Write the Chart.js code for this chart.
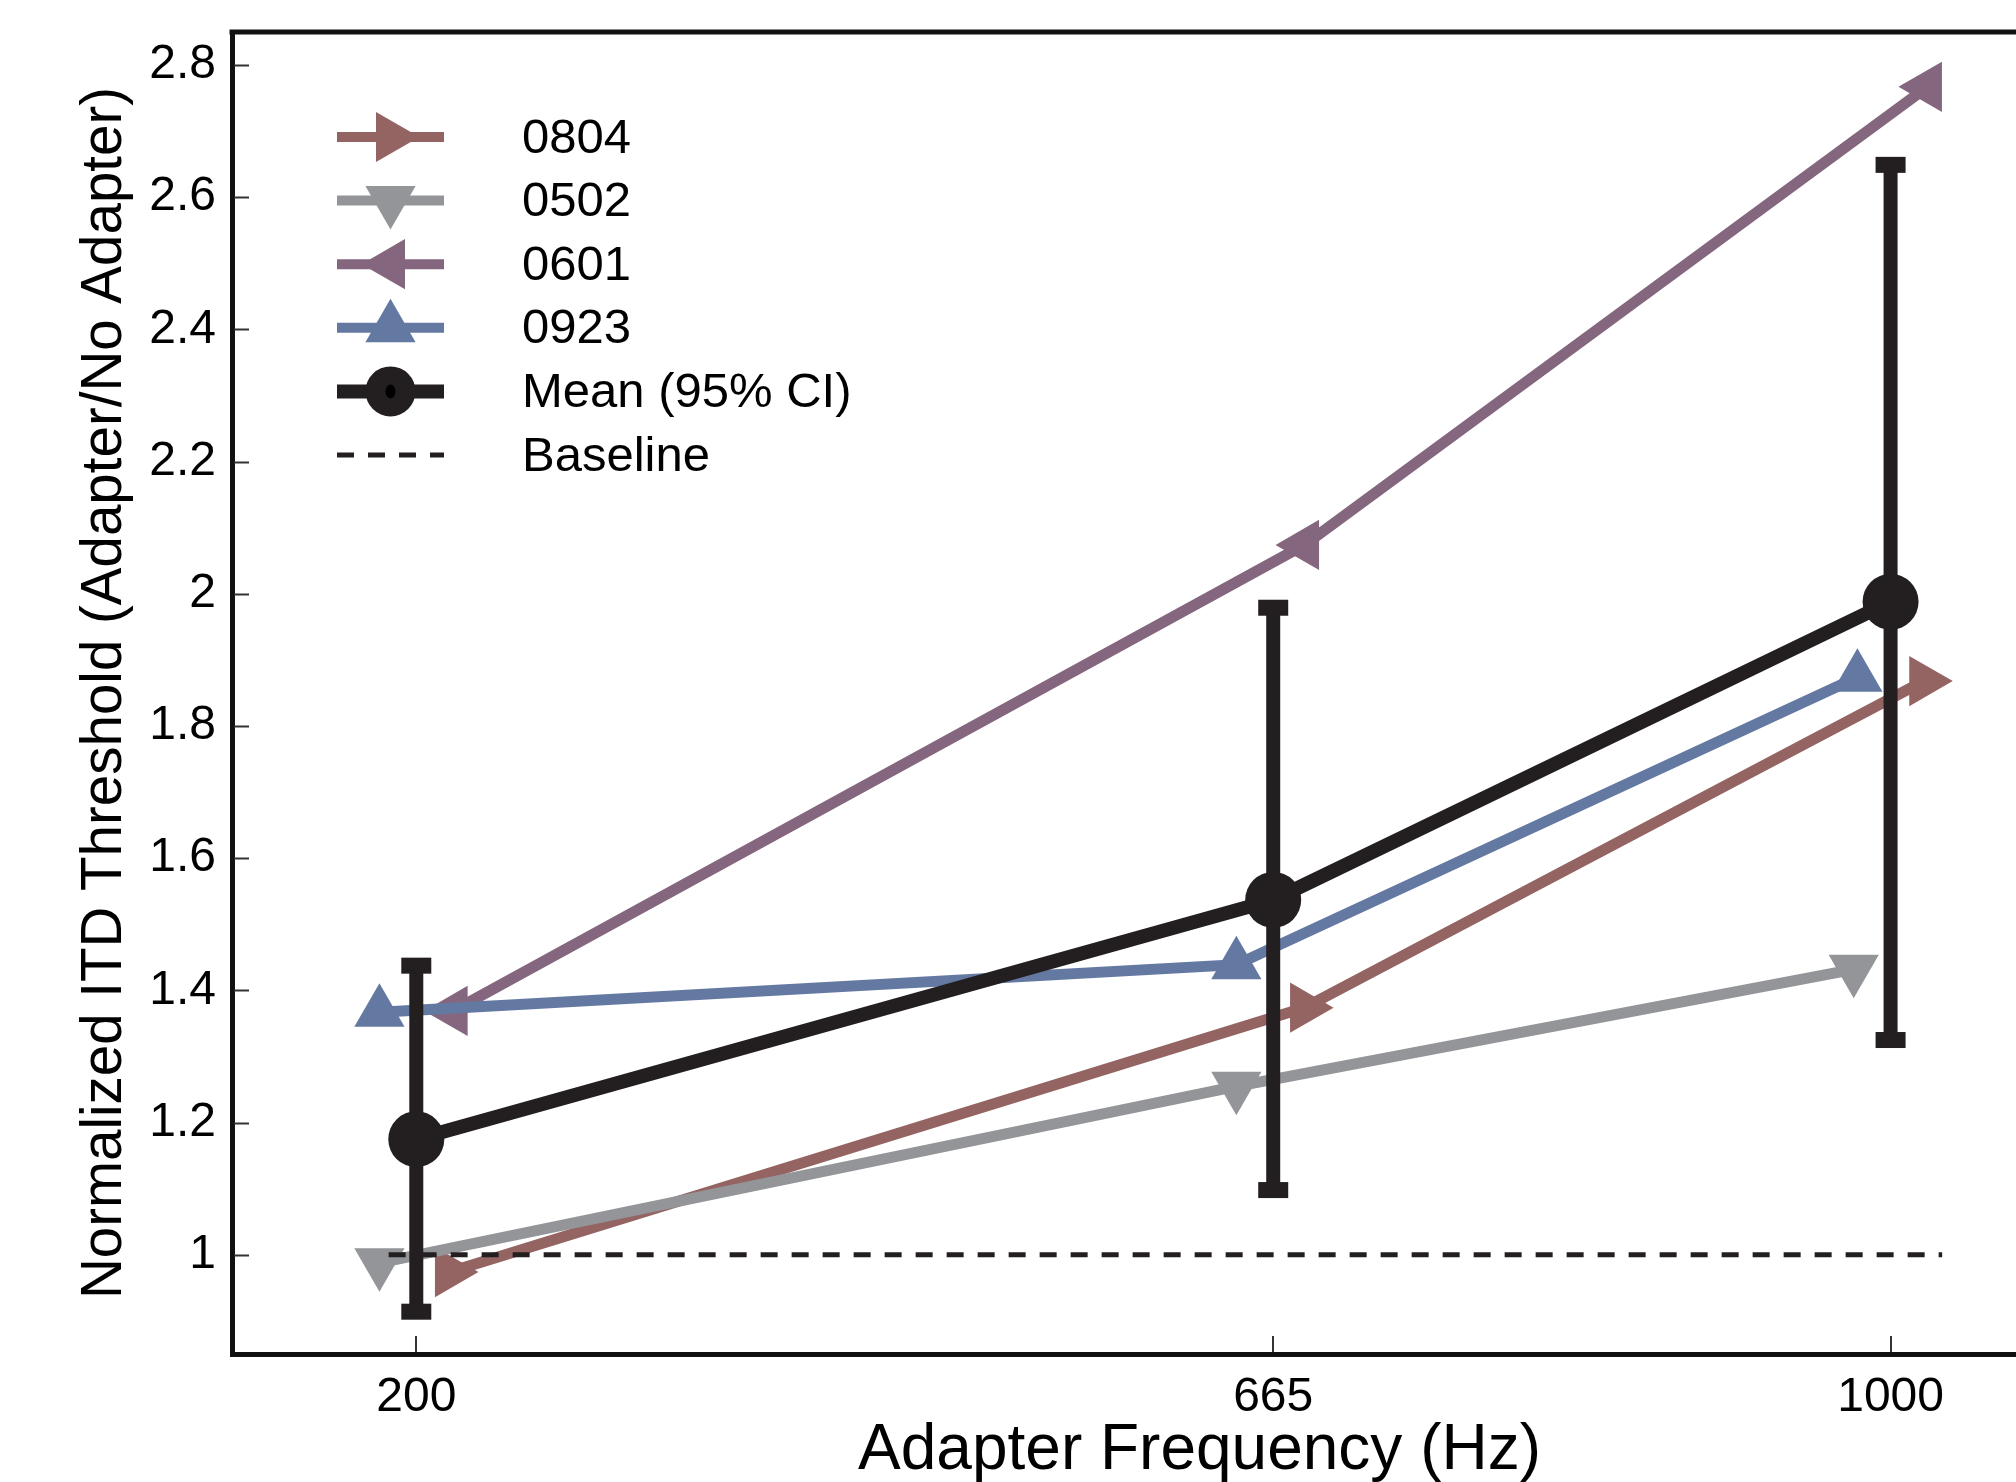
<!DOCTYPE html>
<html><head><meta charset="utf-8">
<script src="https://cdn.jsdelivr.net/npm/chart.js@4.4.1/dist/chart.umd.min.js"></script>
<style>html,body{margin:0;padding:0;background:#fff;overflow:hidden;} #wrap{width:2167px;height:1482px;}</style>
</head><body><div id="wrap"><canvas id="c" width="2167" height="1482"></canvas></div>
<script>
// ---- data ----
const freqs = [200, 665, 1000];
const xTickLabels = ['200', '665', '1000'];
const yTickValues = [1, 1.2, 1.4, 1.6, 1.8, 2, 2.2, 2.4, 2.6, 2.8];
const yTickLabels = ['1', '1.2', '1.4', '1.6', '1.8', '2', '2.2', '2.4', '2.6', '2.8'];
const seriesNames = ['0804', '0502', '0601', '0923'];
const x0804 = [218, 682, 1018];
const y0804 = [0.974, 1.374, 1.868];
const x0502 = [180, 645, 980];
const y0502 = [0.988, 1.255, 1.432];
const x0601 = [220, 682, 1020];
const y0601 = [1.369, 2.074, 2.767];
const x0923 = [180, 645, 982];
const y0923 = [1.367, 1.439, 1.874];
const meanLabel = 'Mean (95% CI)';
const meanY = [1.175, 1.537, 1.988];
const ciLow = [0.914, 1.098, 1.325];
const ciHigh = [1.4375, 1.979, 2.649];
const baselineLabel = 'Baseline';
const baselineX = [185, 1028];
const baselineY = [1, 1];
const xTitle = 'Adapter Frequency (Hz)';
const yTitle = 'Normalized ITD Threshold (Adapter/No Adapter)';

// ---- styles ----
const FONT = "'Liberation Sans', Arial, Helvetica, sans-serif";
const C0804 = '#946462', C0502 = '#939598', C0601 = '#85667f', C0923 = '#6479a2', CMEAN = '#231f20';
const AXIS = '#111111';

function pts(xs, ys) { return xs.map((v, i) => ({x: v, y: ys[i]})); }
function series(label, xs, ys, color, rot, order) {
  return {label, data: pts(xs, ys), borderColor: color, backgroundColor: color,
    borderWidth: 11, pointStyle: 'triangle', pointRotation: rot, pointRadius: 29,
    pointHoverRadius: 29, pointBorderWidth: 0, pointBackgroundColor: color, order, tension: 0};
}

const datasets = [
  series(seriesNames[0], x0804, y0804, C0804, 90, 5),
  series(seriesNames[1], x0502, y0502, C0502, 180, 4),
  series(seriesNames[2], x0601, y0601, C0601, 270, 3),
  series(seriesNames[3], x0923, y0923, C0923, 0, 2),
  {label: meanLabel, data: pts(freqs, meanY), borderColor: CMEAN, backgroundColor: CMEAN,
   borderWidth: 14, pointStyle: 'circle', pointRadius: 28, pointHoverRadius: 28,
   pointBorderWidth: 0, pointBackgroundColor: CMEAN, order: 1},
  {label: baselineLabel, data: pts(baselineX, baselineY), borderColor: CMEAN, borderWidth: 5,
   borderDash: [17, 14], pointRadius: 0, order: 0}
];

function tri(ctx, x, y, r, rotDeg) {
  let rad = rotDeg * Math.PI / 180;
  ctx.beginPath();
  for (let k = 0; k < 3; k++) {
    const px = x + Math.sin(rad) * r, py = y - Math.cos(rad) * r;
    if (k === 0) ctx.moveTo(px, py); else ctx.lineTo(px, py);
    rad += 2 * Math.PI / 3;
  }
  ctx.closePath();
  ctx.fill();
}

const extras = {
  id: 'extras',
  afterDatasetsDraw(chart) {
    const {ctx, scales: {x, y}} = chart;
    ctx.save();
    ctx.strokeStyle = CMEAN; ctx.fillStyle = CMEAN; ctx.lineWidth = 14;
    for (let i = 0; i < freqs.length; i++) {
      const px = x.getPixelForValue(freqs[i]);
      const yl = y.getPixelForValue(ciLow[i]);
      const yh = y.getPixelForValue(ciHigh[i]);
      ctx.beginPath(); ctx.moveTo(px, yl); ctx.lineTo(px, yh); ctx.stroke();
      ctx.fillRect(px - 15, yh - 8, 30, 16);
      ctx.fillRect(px - 15, yl - 8, 30, 16);
    }
    ctx.restore();
  },
  afterDraw(chart) {
    const {ctx, chartArea: a, scales: {x, y}} = chart;
    ctx.save();
    // top frame line
    ctx.strokeStyle = AXIS; ctx.lineWidth = 5;
    ctx.beginPath(); ctx.moveTo(a.left - 2.5, a.top); ctx.lineTo(a.right + 5, a.top); ctx.stroke();
    // inward ticks
    ctx.strokeStyle = '#333'; ctx.lineWidth = 2;
    yTickValues.forEach(v => {
      const py = Math.round(y.getPixelForValue(v)) + 0.5;
      ctx.beginPath(); ctx.moveTo(a.left + 2, py); ctx.lineTo(a.left + 17, py); ctx.stroke();
    });
    freqs.forEach(v => {
      const px = Math.round(x.getPixelForValue(v));
      ctx.beginPath(); ctx.moveTo(px, a.bottom - 2); ctx.lineTo(px, a.bottom - 18); ctx.stroke();
    });
    // legend
    const rows = [
      {name: seriesNames[0], color: C0804, rot: 90, lw: 10},
      {name: seriesNames[1], color: C0502, rot: 180, lw: 10},
      {name: seriesNames[2], color: C0601, rot: 270, lw: 10},
      {name: seriesNames[3], color: C0923, rot: 0, lw: 10},
      {name: meanLabel, color: CMEAN, circle: true, lw: 14},
      {name: baselineLabel, color: CMEAN, dash: true, lw: 5}
    ];
    const x1 = 337, x2 = 444, xm = (x1 + x2) / 2, tx = 522;
    rows.forEach((r, i) => {
      const ry = 137 + i * 63.6;
      ctx.strokeStyle = r.color; ctx.fillStyle = r.color; ctx.lineWidth = r.lw;
      ctx.setLineDash(r.dash ? [17, 14] : []);
      ctx.beginPath(); ctx.moveTo(x1, ry); ctx.lineTo(x2, ry); ctx.stroke();
      ctx.setLineDash([]);
      if (r.circle) {
        ctx.beginPath(); ctx.arc(xm, ry, 25, 0, Math.PI * 2); ctx.fill();
        ctx.fillStyle = '#000';
        ctx.beginPath(); ctx.ellipse(xm, ry, 5, 7, 0, 0, Math.PI * 2); ctx.fill();
      } else if (!r.dash) {
        tri(ctx, xm, ry, 29, r.rot);
      }
      ctx.fillStyle = '#000';
      ctx.font = '49px ' + FONT;
      ctx.textAlign = 'left'; ctx.textBaseline = 'middle';
      ctx.fillText(r.name, tx, ry + 2);
    });
    ctx.restore();
  }
};

new Chart(document.getElementById('c'), {
  type: 'line',
  data: {datasets},
  plugins: [extras],
  options: {
    responsive: false, devicePixelRatio: 1, animation: false,
    layout: {autoPadding: false, padding: {top: 32, left: 0, right: 0, bottom: 0}},
    plugins: {legend: {display: false}, tooltip: {enabled: false}},
    elements: {line: {borderCapStyle: 'butt', borderJoinStyle: 'miter'}},
    scales: {
      x: {
        type: 'linear', min: 100, max: 1150,
        afterBuildTicks: s => { s.ticks = freqs.map(v => ({value: v})); },
        afterFit: s => { s.height = 128; s.paddingLeft = 0; s.paddingRight = 0; },
        grid: {display: false},
        border: {display: true, width: 5, color: AXIS},
        ticks: {color: '#000', font: {family: FONT, size: 48}, padding: 7, maxRotation: 0,
          callback: (v) => xTickLabels[freqs.indexOf(v)]},
        title: {display: true, text: xTitle, color: '#000', font: {family: FONT, size: 64, lineHeight: 0.97},
          padding: {top: 0, bottom: 0}}
      },
      y: {
        type: 'linear', min: 0.85, max: 2.85,
        afterBuildTicks: s => { s.ticks = yTickValues.map(v => ({value: v})); },
        afterFit: s => { s.width = 232; s.paddingTop = 0; s.paddingBottom = 0; },
        grid: {display: false},
        border: {display: true, width: 5, color: AXIS},
        ticks: {color: '#000', font: {family: FONT, size: 48}, padding: 8,
          callback: (v) => yTickLabels[yTickValues.findIndex(t => Math.abs(t - v) < 1e-6)]},
        title: {display: true, text: yTitle, color: '#000', font: {family: FONT, size: 56.5, lineHeight: 1},
          padding: {top: 77, bottom: 0}}
      }
    }
  }
});
</script></body></html>
